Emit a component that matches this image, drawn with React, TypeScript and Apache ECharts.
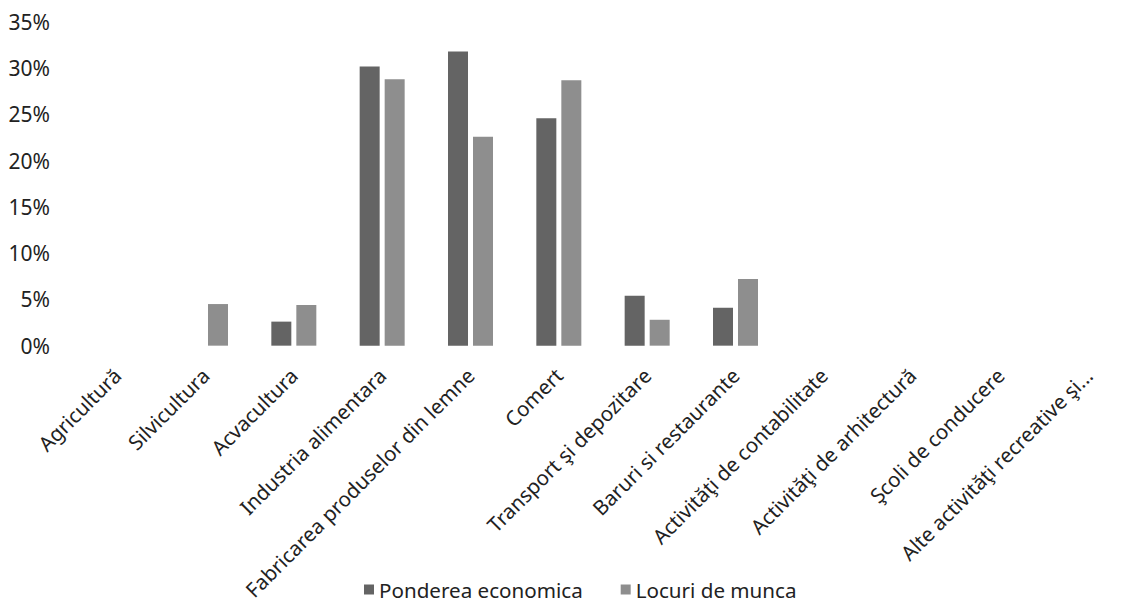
import React, { useEffect, useRef } from "react";
import * as echarts from "echarts";

const categories = [
  "Agricultură",
  "Silvicultura",
  "Acvacultura",
  "Industria alimentara",
  "Fabricarea produselor din lemne",
  "Comert",
  "Transport şi depozitare",
  "Baruri si restaurante",
  "Activităţi de contabilitate",
  "Activităţi de arhitectură",
  "Şcoli de conducere",
  "Alte activităţi recreative şi...",
];
const pondereaEconomica = [0, 0, 2.6, 30.2, 31.8, 24.6, 5.4, 4.1, 0, 0, 0, 0];
const locuriDeMunca = [0, 4.5, 4.4, 28.8, 22.6, 28.7, 2.8, 7.2, 0, 0, 0, 0];
const seriesNames = ["Ponderea economica", "Locuri de munca"];

const FONT = "'Noto Sans', 'Open Sans', sans-serif";

export default function App() {
  const ref = useRef<HTMLDivElement>(null);
  useEffect(() => {
    if (!ref.current) return;
    const chart = echarts.init(ref.current, null, { renderer: "svg" });
    chart.setOption({
      animation: false,
      backgroundColor: "#ffffff",
      textStyle: { fontFamily: FONT },
      grid: { left: 73, right: -28, top: 22, bottom: 257, containLabel: false },
      legend: {
        left: 359,
        top: 574,
        itemWidth: 10,
        itemHeight: 10,
        itemGap: 38,
        icon: "rect",
        textStyle: { fontSize: 20.6, color: "#222", fontFamily: FONT },
        data: seriesNames,
      },
      xAxis: {
        type: "category",
        data: categories,
        axisLine: { show: false },
        axisTick: { show: false },
        axisLabel: {
          interval: 0,
          rotate: 45,
          margin: 26,
          fontSize: 20.5,
          color: "#222",
          fontFamily: FONT,
        },
      },
      yAxis: {
        type: "value",
        min: 0,
        max: 35,
        interval: 5,
        splitLine: { show: false },
        axisLine: { show: false },
        axisTick: { show: false },
        axisLabel: {
          formatter: "{value}%",
          fontSize: 21,
          margin: 23,
          color: "#222",
          fontFamily: FONT,
        },
      },
      series: [
        {
          name: seriesNames[0],
          type: "bar",
          data: pondereaEconomica,
          barWidth: 20,
          barGap: "25%",
          itemStyle: { color: "#646464" },
        },
        {
          name: seriesNames[1],
          type: "bar",
          data: locuriDeMunca,
          barWidth: 20,
          itemStyle: { color: "#8e8e8e" },
        },
      ],
    });
    return () => chart.dispose();
  }, []);
  return (
    <div
      ref={ref}
      style={{ position: "fixed", left: 0, top: 0, width: 1133, height: 603 }}
    />
  );
}
